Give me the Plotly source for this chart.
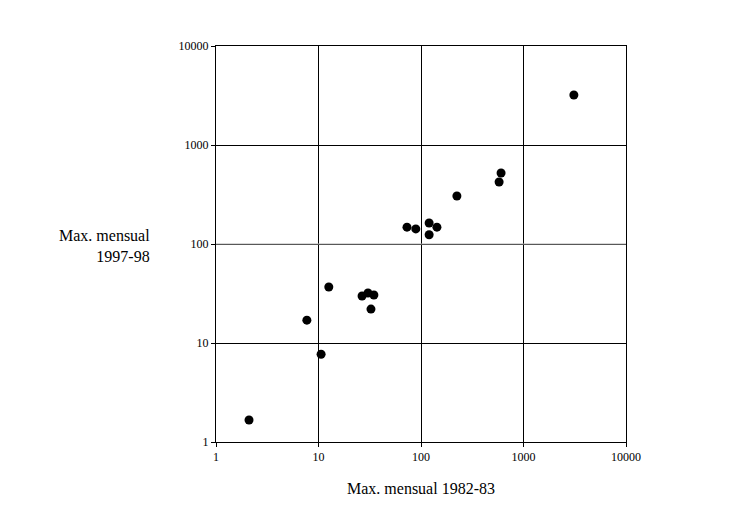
import plotly.graph_objs as go

x_1982 = [2.1, 7.7, 10.6, 12.6, 26.6, 30.4, 34.7, 32.5, 73, 89, 120, 120, 143, 224, 578, 604, 3100]
y_1997 = [1.67, 17, 7.7, 36.8, 29.8, 32, 30.5, 22, 148, 142, 163, 124, 148, 305, 423, 521, 3200]
ticks = [1, 10, 100, 1000, 10000]

font = dict(family="Liberation Serif", color="black")

fig = go.Figure(go.Scatter(x=x_1982, y=y_1997, mode="markers",
                           marker=dict(color="black", size=9), showlegend=False))

axis = dict(type="log", tickvals=ticks, ticktext=[str(t) for t in ticks],
            showline=True, linecolor="black", linewidth=1, mirror=True,
            showgrid=True, gridcolor="black", gridwidth=1, zeroline=False,
            ticks="outside", ticklen=4, tickcolor="black", tickfont=dict(size=12, **font))
fig.update_xaxes(range=[0, 4], **axis)
fig.update_yaxes(range=[0, 4], **axis)

# lighter gridline at 100 on the y axis
fig.add_shape(type="line", xref="x domain", x0=0, x1=1, yref="y", y0=100, y1=100,
              line=dict(color="#b0b0b0", width=1))

fig.add_annotation(text="Max. mensual<br>1997-98", xref="paper", yref="paper",
                   x=-0.155, y=0.495, xanchor="right", yanchor="middle", align="right",
                   showarrow=False, font=dict(size=16, **font))
fig.add_annotation(text="Max. mensual 1982-83", xref="paper", yref="paper",
                   x=0.5, y=-0.09, xanchor="center", yanchor="top",
                   showarrow=False, font=dict(size=16, **font))

fig.update_layout(width=738, height=517, plot_bgcolor="white", paper_bgcolor="white",
                  margin=dict(l=208, r=120, t=38, b=83))
fig.write_html("out.html")
